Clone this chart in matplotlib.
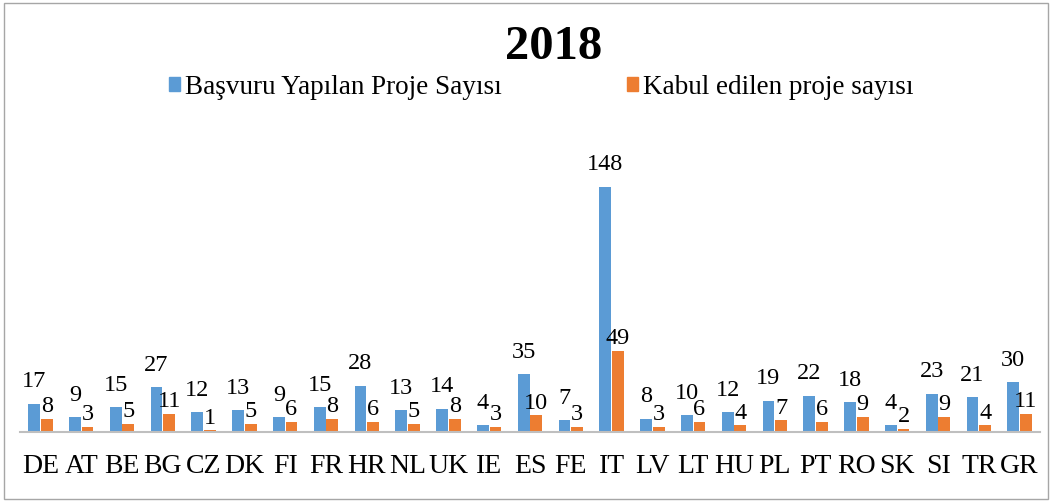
import matplotlib
matplotlib.use('Agg')
import matplotlib.pyplot as plt
from matplotlib.patches import Patch, Rectangle
import numpy as np

countries = ['DE', 'AT', 'BE', 'BG', 'CZ', 'DK', 'FI', 'FR', 'HR', 'NL', 'UK', 'IE', 'ES', 'FE',
             'IT', 'LV', 'LT', 'HU', 'PL', 'PT', 'RO', 'SK', 'SI', 'TR', 'GR']
basvuru = [17, 9, 15, 27, 12, 13, 9, 15, 28, 13, 14, 4, 35, 7, 148, 8, 10, 12, 19, 22, 18, 4, 23, 21, 30]
kabul = [8, 3, 5, 11, 1, 5, 6, 8, 6, 5, 8, 3, 10, 3, 49, 3, 6, 4, 7, 6, 9, 2, 9, 4, 11]

blue = '#5B9BD5'
orange = '#ED7D31'
serif = ['Liberation Serif', 'DejaVu Serif']
plt.rcParams['font.family'] = serif

fig = plt.figure(figsize=(10.51, 5.02), dpi=100)
ax = fig.add_axes([20 / 1051, 69 / 502, 1020 / 1051, 265 / 502])

x = np.arange(len(countries))
w = 0.29
b1 = ax.bar(x - 0.155, basvuru, w, color=blue)
b2 = ax.bar(x + 0.155, kabul, w, color=orange)
ax.bar_label(b1, padding=9, fontsize=17.5)
ax.bar_label(b2, padding=2, fontsize=17.5)

ax.set_xlim(-0.5, len(countries) - 0.5)
ax.set_ylim(0, 160)
ax.set_xticks(x)
ax.set_xticklabels(countries, fontsize=20)
ax.tick_params(axis='x', length=0, pad=15)
ax.set_yticks([])
for s in ['top', 'right', 'left']:
    ax.spines[s].set_visible(False)
ax.spines['bottom'].set_color('#BFBFBF')
ax.spines['bottom'].set_linewidth(1.5)

fig.text(0.527, 1 - 47 / 502, '2018', ha='center', va='center', fontsize=35, fontweight='bold')

handles = [Patch(color=blue), Patch(color=orange)]
fig.legend(handles, ['Başvuru Yapılan Proje Sayısı', 'Kabul edilen proje sayısı'],
           loc='center', bbox_to_anchor=(0.515, 1 - 88 / 502), ncol=2, frameon=False,
           fontsize=19.5, handlelength=0.42, handleheight=0.42, handletextpad=0.2,
           columnspacing=4.6)

fig.patches.append(Rectangle((4 / 1051, 2 / 502), 1044 / 1051, 496 / 502, transform=fig.transFigure,
                             fill=False, edgecolor='#A6A6A6', linewidth=1))

fig.savefig('out.png', dpi=100)
